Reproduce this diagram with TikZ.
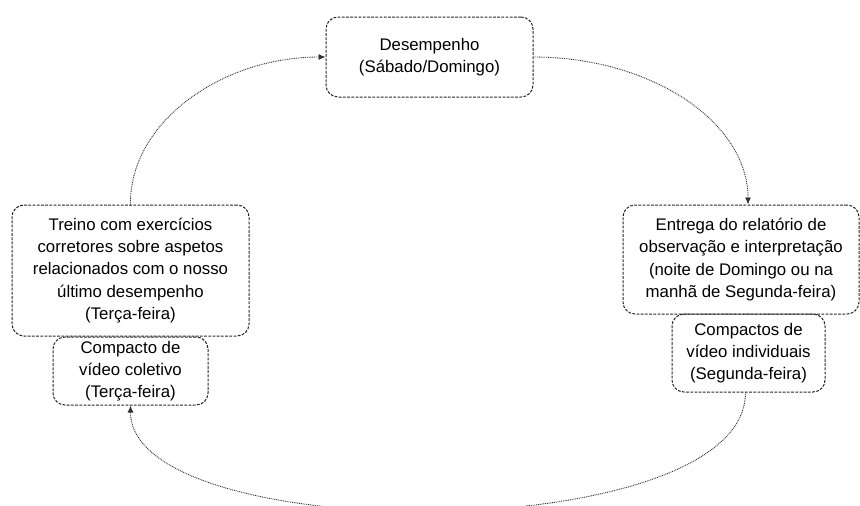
\documentclass[tikz,border=0pt]{standalone}
\usepackage{fontspec}
\setmainfont{Liberation Sans}
\usetikzlibrary{arrows.meta}

\tikzset{
  stagebox/.style={draw=black!85, line width=1pt, dash pattern=on 2.8pt off 1.4pt,
    rounded corners=12pt, align=center, inner sep=0pt,
    font=\fontsize{16.8}{22.3}\selectfont, text=black},
  flow/.style={draw=black!80, line width=0.9pt, dash pattern=on 0.9pt off 0.9pt,
    -{Latex[length=7pt,width=6pt]}}
}

\begin{document}
\begin{tikzpicture}[x=1pt,y=-1pt]
  \useasboundingbox (0,0) rectangle (860,506);
  \clip (0,0) rectangle (860,506);

  % the weekly stages
  \node[stagebox, minimum width=207pt, minimum height=80pt] (perf) at (429.5,57)
    {Desempenho\\(Sábado/Domingo)};
  \node[stagebox, minimum width=236pt, minimum height=109pt] (report) at (741,259.5)
    {Entrega do relatório de\\observação e interpretação\\(noite de Domingo ou na\\manhã de Segunda-feira)};
  \node[stagebox, minimum width=153pt, minimum height=78pt] (indiv) at (748.5,353)
    {Compactos de\\vídeo individuais\\(Segunda-feira)};
  \node[stagebox, minimum width=237pt, minimum height=131pt] (train) at (130.5,270.5)
    {Treino com exercícios\\corretores sobre aspetos\\relacionados com o nosso\\último desempenho\\(Terça-feira)};
  \node[stagebox, minimum width=155pt, minimum height=68pt] (group) at (130.5,371)
    {Compacto de\\vídeo coletivo\\(Terça-feira)};

  % cycle connectors
  \draw[flow] (train.north) .. controls (129,124) and (220,57) .. (perf.west);
  \draw[flow] (perf.east) .. controls (651,57) and (748,122) .. ([xshift=7pt]report.north);
  \draw[flow] ([xshift=-3pt]indiv.south) .. controls (745.5,548) and (130.5,548) .. (group.south);
\end{tikzpicture}
\end{document}
